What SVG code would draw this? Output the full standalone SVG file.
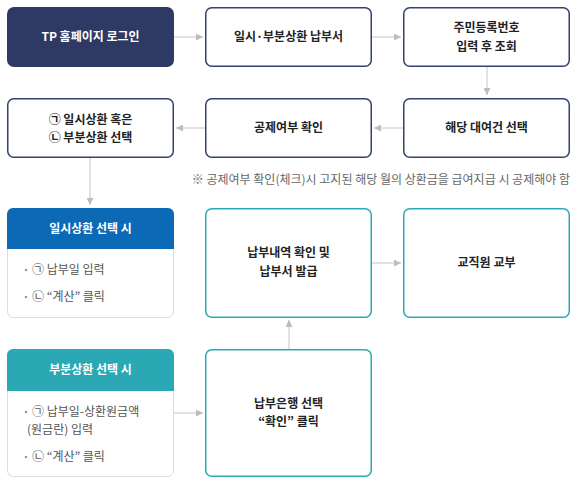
<svg xmlns="http://www.w3.org/2000/svg" width="578" height="482" viewBox="0 0 578 482">
<defs>
<marker id="ah" viewBox="0 0 10 10" refX="10" refY="5" markerWidth="7" markerHeight="7" markerUnits="userSpaceOnUse" orient="auto">
<path d="M0,0 L10,5 L0,10 z" fill="#bdbdbd"/>
</marker>
<style>
text{font-family:"Noto Sans CJK KR","Noto Sans",sans-serif;}
.box{fill:#fff;stroke:#33426e;stroke-width:1.5;}
.tbox{fill:#fff;stroke:#2aaab6;stroke-width:1.5;}
.panel{fill:#fff;stroke:#dddddd;stroke-width:1;}
.t{font-size:12px;font-weight:bold;fill:#222;text-anchor:middle;}
.w{font-size:12px;font-weight:bold;fill:#fff;text-anchor:middle;}
.b{font-size:12px;fill:#555;}
.note{font-size:12px;fill:#666;}
.c{fill:none;stroke:#c4c4c4;stroke-width:1;marker-end:url(#ah);}
</style>
</defs>
<rect width="578" height="482" fill="#fff"/>
<g id="connectors">
<line class="c" x1="174" y1="37" x2="203" y2="37"/>
<line class="c" x1="372" y1="37" x2="401" y2="37"/>
<line class="c" x1="487" y1="67" x2="487" y2="95"/>
<line class="c" x1="403" y1="128" x2="374" y2="128"/>
<line class="c" x1="205" y1="128" x2="176" y2="128"/>
<line class="c" x1="90" y1="158" x2="90" y2="205"/>
<line class="c" x1="173" y1="413" x2="203" y2="413"/>
<line class="c" x1="289" y1="349" x2="289" y2="320"/>
<line class="c" x1="372" y1="263" x2="401" y2="263"/>
</g>
<g id="n1">
<rect x="7" y="7" width="167" height="60" rx="7" fill="#2e3a64"/>
<text class="w" x="90.5" y="41">TP 홈페이지 로그인</text>
</g>
<g id="n2">
<rect class="box" x="205.75" y="7.75" width="165.5" height="58.5" rx="6"/>
<text class="t" x="288.5" y="41">일시·부분상환 납부서</text>
</g>
<g id="n3">
<rect class="box" x="403.75" y="7.75" width="165.5" height="58.5" rx="6"/>
<text class="t" x="486.5" y="32">주민등록번호</text>
<text class="t" x="486.5" y="51">입력 후 조회</text>
</g>
<g id="n4">
<rect class="box" x="403.75" y="98.75" width="165.5" height="58.5" rx="6"/>
<text class="t" x="486.5" y="132">해당 대여건 선택</text>
</g>
<g id="n5">
<rect class="box" x="205.75" y="98.75" width="165.5" height="58.5" rx="6"/>
<text class="t" x="288.5" y="132">공제여부 확인</text>
</g>
<g id="n6">
<rect class="box" x="7.75" y="98.75" width="165.5" height="58.5" rx="6"/>
<text class="t" x="90.5" y="124">㉠ 일시상환 혹은</text>
<text class="t" x="90.5" y="142">㉡ 부분상환 선택</text>
</g>
<g id="note">
<text class="note" x="570" y="184" text-anchor="end">※ 공제여부 확인(체크)시 고지된 해당 월의 상환금을 급여지급 시 공제해야 함</text>
</g>
<g id="n7">
<rect class="panel" x="7.5" y="208.5" width="166" height="109" rx="6"/>
<path d="M7,249 V214 a6,6 0 0 1 6,-6 H168 a6,6 0 0 1 6,6 V249 z" fill="#0b69b5"/>
<text class="w" x="90.5" y="233">일시상환 선택 시</text>
<circle cx="26" cy="270" r="1.3" fill="#999"/>
<text class="b" x="32" y="274">㉠ 납부일 입력</text>
<circle cx="26" cy="297" r="1.3" fill="#999"/>
<text class="b" x="32" y="301">㉡ “계산” 클릭</text>
</g>
<g id="n8">
<rect class="panel" x="7.5" y="349.5" width="166" height="127" rx="6"/>
<path d="M7,391 V355 a6,6 0 0 1 6,-6 H168 a6,6 0 0 1 6,6 V391 z" fill="#2aa9b5"/>
<text class="w" x="90.5" y="374">부분상환 선택 시</text>
<circle cx="26" cy="412" r="1.3" fill="#999"/>
<text class="b" x="32" y="416">㉠ 납부일-상환원금액</text>
<text class="b" x="27" y="434">(원금란) 입력</text>
<circle cx="26" cy="457" r="1.3" fill="#999"/>
<text class="b" x="32" y="461">㉡ “계산” 클릭</text>
</g>
<g id="n9">
<rect class="tbox" x="205.75" y="208.75" width="165.5" height="108.5" rx="6"/>
<text class="t" x="288.5" y="257">납부내역 확인 및</text>
<text class="t" x="288.5" y="276">납부서 발급</text>
</g>
<g id="n10">
<rect class="tbox" x="403.75" y="208.75" width="165.5" height="108.5" rx="6"/>
<text class="t" x="486.5" y="267">교직원 교부</text>
</g>
<g id="n11">
<rect class="tbox" x="205.75" y="349.75" width="165.5" height="126.5" rx="6"/>
<text class="t" x="288.5" y="408">납부은행 선택</text>
<text class="t" x="288.5" y="426">“확인” 클릭</text>
</g>
</svg>
